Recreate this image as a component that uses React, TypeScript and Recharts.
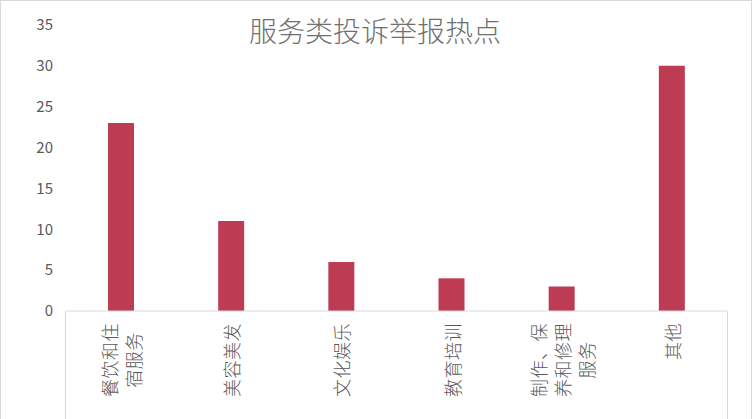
import { BarChart, Bar, XAxis, YAxis } from "recharts";

const categories = [
  "餐饮和住宿服务",
  "美容美发",
  "文化娱乐",
  "教育培训",
  "制作、保养和修理服务",
  "其他",
];
const complaintCounts = [23, 11, 6, 4, 3, 30];
const yTicks = [0, 5, 10, 15, 20, 25, 30, 35];
const title = "服务类投诉举报热点";

const chartData = categories.map((name, i) => ({
  name,
  count: complaintCounts[i],
}));

const FONT = '"Noto Sans CJK SC", "Noto Sans", sans-serif';
const LABEL_SIZE = 18;
const LINE_GAP = 24;

// 每4个字换行，竖排（逆时针旋转90度）
function wrap(text: string, n = 4) {
  const out: string[] = [];
  for (let i = 0; i < text.length; i += n) out.push(text.slice(i, i + n));
  return out;
}

function CategoryTick(props: any) {
  const { x, y, payload } = props;
  const lines = wrap(String(payload.value));
  const maxLen = Math.max(...lines.map((l) => l.length)) * (LABEL_SIZE + 0.5);
  return (
    <g transform={`translate(${x},${y + 12}) rotate(-90)`}>
      {lines.map((line, i) => (
        <text
          key={i}
          x={-maxLen / 2}
          y={(i - (lines.length - 1) / 2) * LINE_GAP}
          textAnchor="middle"
          dominantBaseline="central"
          fill="#595959"
          fontSize={LABEL_SIZE}
          fontWeight={300}
          letterSpacing={0.5}
          fontFamily={FONT}
        >
          {line}
        </text>
      ))}
    </g>
  );
}

export default function App() {
  return (
    <div
      style={{
        position: "absolute",
        left: 0,
        top: 0,
        width: 752,
        height: 419,
        overflow: "hidden",
        background: "#fff",
        fontFamily: FONT,
      }}
    >
      <BarChart
        width={752}
        height={419}
        data={chartData}
        margin={{ top: 25, right: 25, bottom: 0, left: 0 }}
      >
        <text
          x={375}
          y={42}
          textAnchor="middle"
          fill="#707070"
          fontSize={28}
          fontWeight={300}
          fontFamily={FONT}
        >
          {title}
        </text>
        <XAxis
          dataKey="name"
          height={108}
          interval={0}
          tickLine={false}
          tickSize={0}
          tickMargin={0}
          axisLine={{ stroke: "#d9d9d9" }}
          tick={<CategoryTick />}
        />
        <YAxis
          width={66}
          domain={[0, 35]}
          ticks={yTicks}
          axisLine={false}
          tickLine={false}
          tickSize={0}
          tickMargin={13}
          tick={{ fill: "#595959", fontSize: 15, fontFamily: FONT }}
        />
        <Bar
          dataKey="count"
          fill="#BE3B54"
          barSize={26}
          isAnimationActive={false}
        />
      </BarChart>
      {/* 分类轴选中框 */}
      <div
        style={{
          position: "absolute",
          left: 65,
          top: 311,
          width: 661,
          height: 120,
          borderLeft: "1px solid #d9d9d9",
          borderRight: "1px solid #d9d9d9",
          pointerEvents: "none",
        }}
      />
      {/* 图表外框 */}
      <div
        style={{
          position: "absolute",
          left: 0,
          top: 0,
          width: 750,
          height: 430,
          border: "1px solid #d9d9d9",
          pointerEvents: "none",
        }}
      />
    </div>
  );
}
